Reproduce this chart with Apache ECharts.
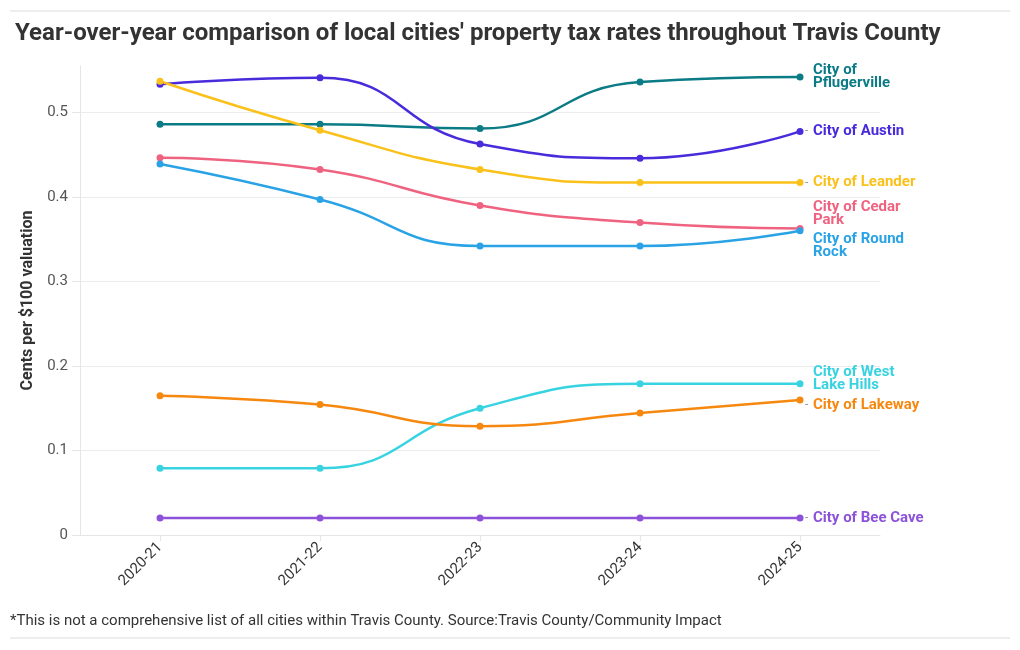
<!DOCTYPE html>
<html><head><meta charset="utf-8">
<script src="https://cdn.jsdelivr.net/npm/echarts@6/dist/echarts.min.js"></script>
<style>html,body{margin:0;padding:0;background:#fff}#c{width:1020px;height:650px}</style>
</head><body><div id="c"></div>
<script>
const years = ['2020-21','2021-22','2022-23','2023-24','2024-25'];
const yTicks = [0, 0.1, 0.2, 0.3, 0.4, 0.5];
const pflugerville = [0.486, 0.486, 0.481, 0.536, 0.542];
const austin = [0.5335, 0.541, 0.4627, 0.4458, 0.4776];
const leander = [0.537, 0.479, 0.4325, 0.417, 0.417];
const cedarPark = [0.4465, 0.4325, 0.3899, 0.3697, 0.3626];
const roundRock = [0.439, 0.397, 0.342, 0.342, 0.360];
const westLakeHills = [0.079, 0.079, 0.150, 0.179, 0.179];
const lakeway = [0.1647, 0.1543, 0.1288, 0.1443, 0.1598];
const beeCave = [0.0200, 0.0200, 0.0200, 0.0200, 0.0200];

const seriesDefs = [
  {name:'City of\nPflugerville', data:pflugerville, color:'#0b7b86', off:[0,0]},
  {name:'City of Austin', data:austin, color:'#4a2bdc', off:[0,0]},
  {name:'City of Leander', data:leander, color:'#fbc11b', off:[0,0]},
  {name:'City of Cedar\nPark', data:cedarPark, color:'#ef6381', off:[0,-15]},
  {name:'City of Round\nRock', data:roundRock, color:'#29a3e6', off:[0,15]},
  {name:'City of West\nLake Hills', data:westLakeHills, color:'#38d3e1', off:[0,-5]},
  {name:'City of Lakeway', data:lakeway, color:'#f7880f', off:[0,5]},
  {name:'City of Bee Cave', data:beeCave, color:'#8c52d9', off:[0,0]}
];
const FONT = 'Roboto, "Noto Sans", sans-serif';
const chart = echarts.init(document.getElementById('c'));
chart.setOption({
  animation:false,
  textStyle:{fontFamily:FONT},
  title:{text:"Year-over-year comparison of local cities' property tax rates throughout Travis County",
    left:10, top:17, textStyle:{fontSize:24, fontWeight:'bold', color:'#333', fontFamily:FONT}},
  graphic:[
    {type:'line', shape:{x1:10,y1:11,x2:1010,y2:11}, style:{stroke:'#dddddd', lineWidth:1}},
    {type:'line', shape:{x1:10,y1:638,x2:1010,y2:638}, style:{stroke:'#dddddd', lineWidth:1}},
    {type:'text', left:10, top:614, style:{text:'*This is not a comprehensive list of all cities within Travis County. Source:Travis County/Community Impact', fill:'#333', fontSize:15, fontFamily:FONT}}
  ],
  grid:{left:80, right:140, top:66, bottom:115, containLabel:false},
  xAxis:{type:'category', data:years, boundaryGap:true,
    axisLine:{show:true, lineStyle:{color:'#e6e6e6'}},
    axisTick:{show:true, alignWithLabel:true, length:6, lineStyle:{color:'#e6e6e6'}},
    axisLabel:{rotate:45, color:'#333', fontSize:15, margin:10, fontFamily:FONT}},
  yAxis:{type:'value', min:0, max:0.555, interval:0.1,
    name:'Cents per $100 valuation', nameLocation:'middle', nameGap:43,
    nameTextStyle:{fontSize:16, fontWeight:'bold', color:'#333', fontFamily:FONT},
    axisLine:{show:true, lineStyle:{color:'#e6e6e6'}},
    axisTick:{show:true, length:8, lineStyle:{color:'#e6e6e6'}},
    axisLabel:{color:'#555', fontSize:15, margin:12, fontFamily:FONT, showMaxLabel:false,
      formatter:v => yTicks.indexOf(Math.round(v*10)/10)>=0 && Math.abs(v*10-Math.round(v*10))<1e-6 ? String(Math.round(v*10)/10) : ''},
    splitLine:{show:true, lineStyle:{color:['#ececec','#ececec','#ececec','#ececec','#ececec','#ececec','rgba(0,0,0,0)']}}},
  series: seriesDefs.map(s => {
    const multi = s.name.indexOf('\n') >= 0;
    return {
    type:'line', name:s.name, data:s.data, smooth:0.5,
    symbol:'circle', symbolSize:7,
    lineStyle:{color:s.color, width:2.5}, itemStyle:{color:s.color},
    emphasis:{disabled:true},
    endLabel:{show:true,
      formatter: multi ? s.name : '{d|-}{n|' + s.name + '}',
      color:s.color, fontSize:15, fontWeight:'bold',
      lineHeight:13, distance: multi ? 13 : 5, offset:s.off, fontFamily:FONT,
      rich:{d:{color:'#999', fontSize:12, fontWeight:'normal', width:8, fontFamily:FONT},
            n:{color:s.color, fontSize:15, fontWeight:'bold', fontFamily:FONT}}}
  };})
});
</script></body></html>
